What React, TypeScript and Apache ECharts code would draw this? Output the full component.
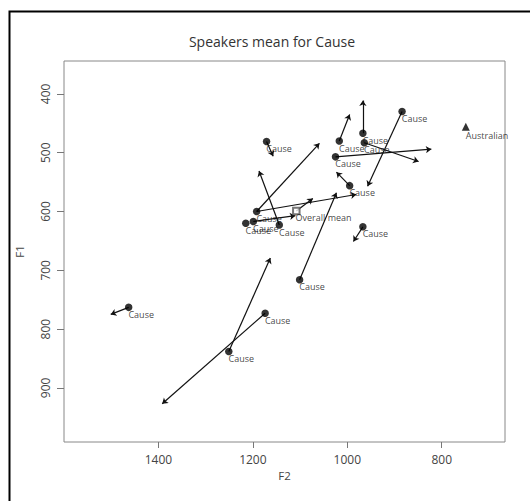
import React, { useEffect, useRef } from "react";
import * as echarts from "echarts";

// Speaker means (F2, F1)
const speakerF2 = [884, 967, 1017, 964, 1025, 995, 1171, 1192, 1199, 1215, 1144, 967, 1101, 1463, 1174, 1251];
const speakerF1 = [430, 467, 480, 483, 507, 556, 481, 600, 617, 620, 623, 626, 716, 763, 773, 838];
const speakerLabel = "Cause";

// Arrows (from -> to)
const arrowFromF2 = [884, 967, 1017, 964, 1025, 995, 1171, 1192, 1144, 1199, 1192, 967, 1101, 1463, 1174, 1251, 1108];
const arrowFromF1 = [430, 467, 480, 483, 507, 556, 481, 600, 623, 617, 600, 626, 716, 763, 773, 838, 599];
const arrowToF2 = [957, 967, 995, 849, 822, 1023, 1157, 1059, 1187, 1110, 981, 987, 1023, 1501, 1392, 1163, 1073];
const arrowToF1 = [557, 411, 435, 515, 494, 533, 506, 484, 531, 607, 571, 651, 568, 775, 927, 679, 578];

// Overall mean and reference
const meanF2 = [1108];
const meanF1 = [599];
const meanLabel = "Overall mean";
const refF2 = [749];
const refF1 = [456];
const refLabel = "Australian";

const xTicks = [800, 1000, 1200, 1400];
const yTicks = [400, 500, 600, 700, 800, 900];

const FONT = "Open Sans";

export default function App() {
  const ref = useRef<HTMLDivElement>(null);
  useEffect(() => {
    if (!ref.current) return;
    const chart = echarts.init(ref.current, null, { renderer: "svg" });
    const labelCommon = {
      show: true,
      position: [3.5, 10.8],
      align: "left",
      verticalAlign: "middle",
      fontFamily: FONT,
      fontSize: 9,
      color: "#111",
    };
    chart.setOption({
      animation: false,
      backgroundColor: "#fff",
      grid: {
        left: 64,
        right: 25,
        top: 61,
        bottom: 59,
        show: true,
        borderColor: "#888",
        borderWidth: 1,
      },
      xAxis: {
        type: "value",
        inverse: true,
        min: 666,
        max: 1600,
        name: "F2",
        nameLocation: "middle",
        nameGap: 27,
        nameTextStyle: { fontFamily: FONT, fontSize: 11.5, color: "#444" },
        axisLine: { show: false },
        splitLine: { show: false },
        axisTick: { show: true, length: 6, lineStyle: { color: "#777" }, customValues: xTicks },
        axisLabel: {
          customValues: xTicks,
          formatter: (v: number) => String(v),
          fontFamily: FONT,
          fontSize: 12,
          color: "#444",
          margin: 11,
        },
      },
      yAxis: {
        type: "value",
        inverse: true,
        min: 344,
        max: 992,
        name: "F1",
        nameLocation: "middle",
        nameGap: 39,
        nameTextStyle: { fontFamily: FONT, fontSize: 11.5, color: "#444" },
        axisLine: { show: false },
        splitLine: { show: false },
        axisTick: { show: true, length: 7, lineStyle: { color: "#777" }, customValues: yTicks },
        axisLabel: {
          customValues: yTicks,
          formatter: (v: number) => String(v),
          rotate: 90,
          fontFamily: FONT,
          fontSize: 12,
          color: "#444",
          margin: 13,
        },
      },
      graphic: [
        {
          type: "rect",
          silent: true,
          shape: { x: 9.5, y: 11.5, width: 600, height: 600 },
          style: { fill: "none", stroke: "#000", lineWidth: 2 },
          z: 100,
        },
        {
          type: "text",
          x: 272,
          y: 41,
          style: {
            text: "Speakers mean for Cause",
            align: "center",
            verticalAlign: "middle",
            font: `14px "${FONT}"`,
            fill: "#333",
          },
        },
      ],
      series: [
        {
          type: "lines",
          coordinateSystem: "cartesian2d",
          symbol: ["none", "arrow"],
          symbolSize: 5.5,
          lineStyle: { color: "#111", width: 1.2, opacity: 1 },
          z: 1,
          data: arrowFromF2.map((f2, i) => ({
            coords: [
              [f2, arrowFromF1[i]],
              [arrowToF2[i], arrowToF1[i]],
            ],
          })),
        },
        {
          type: "scatter",
          symbol: "circle",
          symbolSize: 7.5,
          itemStyle: { color: "#000" },
          z: 3,
          label: { ...labelCommon, formatter: () => speakerLabel },
          data: speakerF2.map((f2, i) => [f2, speakerF1[i]]),
        },
        {
          type: "scatter",
          symbol: "emptyRect",
          symbolSize: 6.5,
          itemStyle: { color: "#555", borderWidth: 1 },
          z: 3,
          label: { ...labelCommon, formatter: () => meanLabel },
          data: meanF2.map((f2, i) => [f2, meanF1[i]]),
        },
        {
          type: "scatter",
          symbol: "triangle",
          symbolSize: 8,
          itemStyle: { color: "#000" },
          z: 3,
          label: { ...labelCommon, position: [4, 12.5], formatter: () => refLabel },
          data: refF2.map((f2, i) => [f2, refF1[i]]),
        },
      ],
    });
    return () => chart.dispose();
  }, []);
  return (
    <div
      ref={ref}
      style={{ position: "fixed", left: 0, top: 0, width: 530, height: 501 }}
    />
  );
}
